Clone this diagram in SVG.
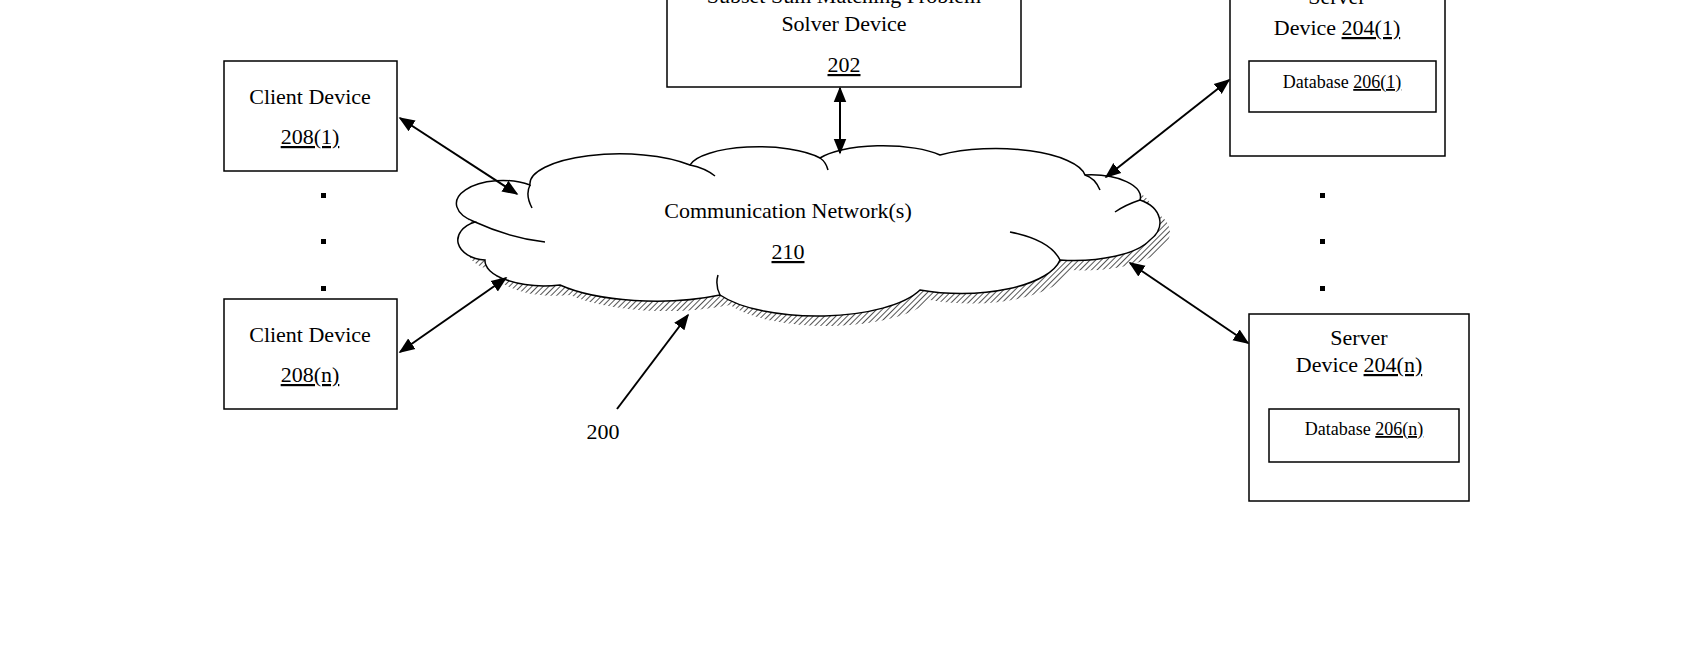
<svg xmlns="http://www.w3.org/2000/svg" width="1700" height="650" viewBox="0 0 1700 650">
<style>
.b{fill:#fff;stroke:#000;stroke-width:1.5}
.t{font-family:"Liberation Serif",serif;font-size:22px;fill:#000;text-anchor:middle}
.s{font-size:18px}
.c{stroke:#000;stroke-width:2;fill:none}
</style>
<defs>
<pattern id="h" width="4" height="4" patternUnits="userSpaceOnUse" patternTransform="rotate(45)"><rect width="4" height="4" fill="#fff"/><line x1="0" y1="0" x2="0" y2="4" stroke="#555" stroke-width="2"/></pattern>
<marker id="a" viewBox="0 0 10 10" refX="9" refY="5" markerWidth="8" markerHeight="8" orient="auto-start-reverse"><path d="M0,1 L10,5 L0,9 z" fill="#000"/></marker>
</defs>
<rect width="1700" height="650" fill="#fff"/>
<g id="cloud">
<path d="M475,222 A40,20 0 0 1 530,185 A90,30 0 0 1 690,165 A70,22 0 0 1 820,158 A70,22 0 0 1 940,155 A90,30 0 0 1 1085,175 A50,22 0 0 1 1140,200 A35,25 0 0 1 1150,240 A80,30 0 0 1 1060,260 A100,40 0 0 1 920,290 A110,40 0 0 1 720,295 A120,40 0 0 1 560,285 A60,25 0 0 1 485,260 A30,20 0 0 1 475,222 Z" fill="url(#h)" transform="translate(10,10)"/>
<path class="b" d="M475,222 A40,20 0 0 1 530,185 A90,30 0 0 1 690,165 A70,22 0 0 1 820,158 A70,22 0 0 1 940,155 A90,30 0 0 1 1085,175 A50,22 0 0 1 1140,200 A35,25 0 0 1 1150,240 A80,30 0 0 1 1060,260 A100,40 0 0 1 920,290 A110,40 0 0 1 720,295 A120,40 0 0 1 560,285 A60,25 0 0 1 485,260 A30,20 0 0 1 475,222 Z"/>
<path class="c" style="stroke-width:1.5" d="M475,222 Q510,238 545,242 M530,185 Q525,195 532,208 M690,165 Q705,168 715,176 M820,158 Q826,162 828,170 M1085,175 Q1095,178 1100,190 M1140,200 Q1125,205 1115,212 M1060,260 Q1050,240 1010,232 M720,295 Q715,285 718,275"/>
<text class="t" x="788" y="218">Communication Network(s)</text>
<text class="t" x="788" y="259" text-decoration="underline">210</text>
</g>
<g id="client1"><rect class="b" x="224" y="61" width="173" height="110"/><text class="t" x="310" y="104">Client Device</text><text class="t" x="310" y="144" text-decoration="underline">208(1)</text></g>
<g id="client2"><rect class="b" x="224" y="299" width="173" height="110"/><text class="t" x="310" y="342">Client Device</text><text class="t" x="310" y="382" text-decoration="underline">208(n)</text></g>
<g id="solver"><rect class="b" x="667" y="-20" width="354" height="107"/><text class="t" x="844" y="3">Subset Sum Matching Problem</text><text class="t" x="844" y="31">Solver Device</text><text class="t" x="844" y="72" text-decoration="underline">202</text></g>
<g id="server1"><rect class="b" x="1230" y="-20" width="215" height="176"/><text class="t" x="1337" y="4">Server</text><text class="t" x="1337" y="35">Device <tspan text-decoration="underline">204(1)</tspan></text>
<rect class="b" x="1249" y="61" width="187" height="51"/><text class="t s" x="1342" y="88">Database <tspan text-decoration="underline">206(1)</tspan></text></g>
<g id="servern"><rect class="b" x="1249" y="314" width="220" height="187"/><text class="t" x="1359" y="345">Server</text><text class="t" x="1359" y="372">Device <tspan text-decoration="underline">204(n)</tspan></text>
<rect class="b" x="1269" y="409" width="190" height="53"/><text class="t s" x="1364" y="435">Database <tspan text-decoration="underline">206(n)</tspan></text></g>
<g id="dots" fill="#000"><rect x="321" y="193" width="5" height="5"/><rect x="321" y="239" width="5" height="5"/><rect x="321" y="286" width="5" height="5"/><rect x="1320" y="193" width="5" height="5"/><rect x="1320" y="239" width="5" height="5"/><rect x="1320" y="286" width="5" height="5"/></g>
<g id="connectors" class="c">
<line x1="400" y1="118" x2="517" y2="194" marker-start="url(#a)" marker-end="url(#a)"/>
<line x1="400" y1="352" x2="506" y2="278" marker-start="url(#a)" marker-end="url(#a)"/>
<line x1="840" y1="88" x2="840" y2="153" marker-start="url(#a)" marker-end="url(#a)"/>
<line x1="1229" y1="80" x2="1106" y2="177" marker-start="url(#a)" marker-end="url(#a)"/>
<line x1="1130" y1="263" x2="1248" y2="343" marker-start="url(#a)" marker-end="url(#a)"/>
<line x1="617" y1="409" x2="688" y2="315" marker-end="url(#a)"/>
</g>
<text class="t" x="603" y="439">200</text>
</svg>
